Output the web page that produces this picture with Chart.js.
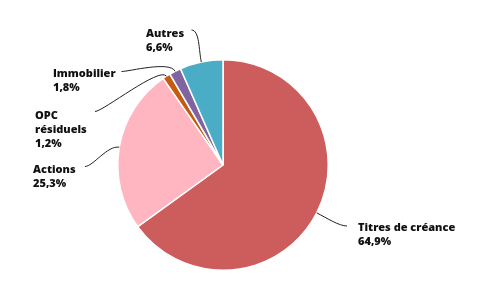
<!DOCTYPE html>
<html><head><meta charset="utf-8">
<script src="https://cdn.jsdelivr.net/npm/chart.js@4"></script>
<style>html,body{margin:0;padding:0;background:#fff;}#wrap{width:481px;height:286px;}</style>
</head><body><div id="wrap"><canvas id="c" width="481" height="286"></canvas></div>
<script>
const categories = ["Titres de créance", "Actions", "OPC\nrésiduels", "Immobilier", "Autres"];
const values = [64.9, 25.3, 1.2, 1.8, 6.6];
const colors = ["#CD5C5C", "#FFB6C1", "#C55A11", "#8064A2", "#4BACC6"];

// label layout: line end point and text anchor (left aligned, first line middle)
const labelLayout = [
  {ex: 347, ey: 226, tx: 358, ty: 228, side: 1},
  {ex: 85, ey: 166.5, tx: 33, ty: 170, side: -1},
  {ex: 95, ey: 111.5, tx: 35, ty: 116, side: -1},
  {ex: 121.5, ey: 71.5, tx: 53, ty: 74, side: -1},
  {ex: 191.5, ey: 30, tx: 146, ty: 34, side: -1}
];

const calloutPlugin = {
  id: 'callouts',
  afterDatasetsDraw(chart) {
    const ctx = chart.ctx;
    const meta = chart.getDatasetMeta(0);
    ctx.save();
    meta.data.forEach((arc, i) => {
      const L = labelLayout[i];
      const mid = (arc.startAngle + arc.endAngle) / 2;
      const dx = Math.cos(mid), dy = Math.sin(mid);
      const r = arc.outerRadius;
      const x0 = arc.x + dx * r, y0 = arc.y + dy * r;
      const c1x = x0 + dx * 12, c1y = y0 + dy * 12;
      const c2x = L.ex - L.side * 8, c2y = L.ey;
      ctx.beginPath();
      ctx.moveTo(x0, y0);
      ctx.bezierCurveTo(c1x, c1y, c2x, c2y, L.ex, L.ey);
      ctx.strokeStyle = '#222';
      ctx.lineWidth = 1;
      ctx.stroke();
      const lines = categories[i].split('\n');
      lines.push(values[i].toFixed(1).replace('.', ',') + '%');
      ctx.fillStyle = '#111';
      ctx.font = '800 11px "Open Sans", sans-serif';
      ctx.textAlign = 'left';
      ctx.textBaseline = 'middle';
      lines.forEach((t, k) => ctx.fillText(t, L.tx, L.ty + k * 14));
    });
    ctx.restore();
  }
};

new Chart(document.getElementById('c'), {
  type: 'pie',
  data: {
    labels: categories,
    datasets: [{
      data: values,
      backgroundColor: colors,
      borderColor: '#ffffff',
      borderWidth: 1.5
    }]
  },
  options: {
    responsive: false,
    animation: false,
    layout: {padding: {top: 59, bottom: 15, left: 100, right: 135}},
    plugins: {legend: {display: false}, tooltip: {enabled: false}}
  },
  plugins: [calloutPlugin]
});
</script>
</body></html>
